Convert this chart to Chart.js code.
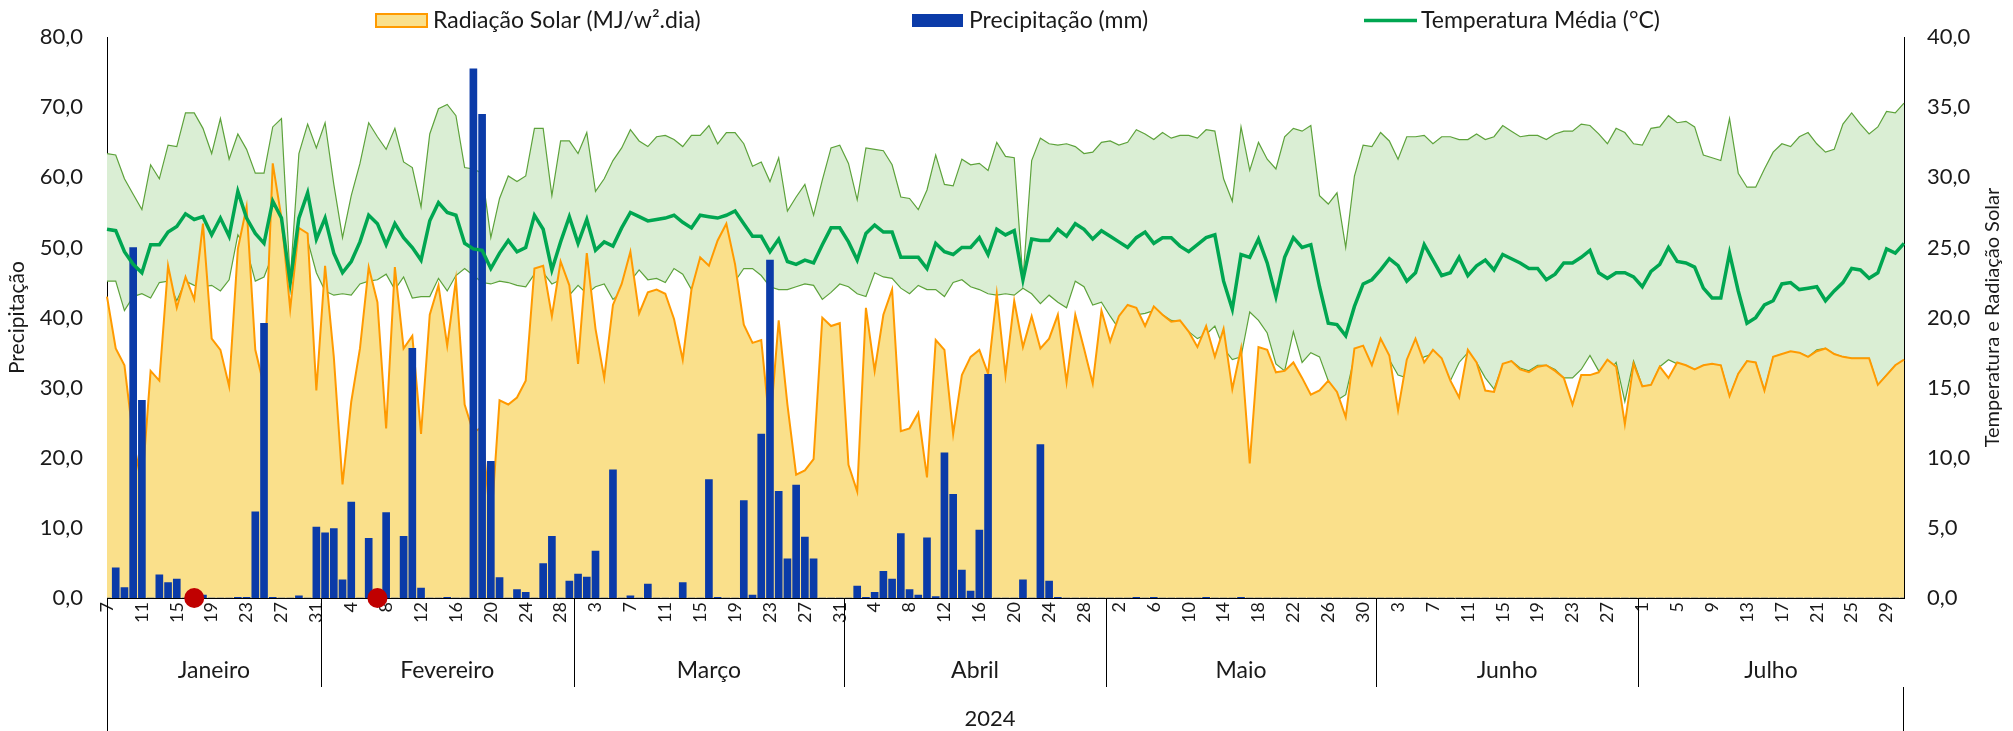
<!DOCTYPE html>
<html lang="pt-BR">
<head>
<meta charset="utf-8">
<title>Precipitação, Radiação Solar e Temperatura 2024</title>
<script src="https://cdn.jsdelivr.net/npm/chart.js@4.4.1/dist/chart.umd.min.js"></script>
<style>
  html, body { margin: 0; padding: 0; background: #fff; }
  #grafico { display: block; }
</style>
</head>
<body>
<canvas id="grafico" width="2013" height="731"></canvas>
<script>
// months on the axis (first / last day shown of each)
const meses = ['Janeiro', 'Fevereiro', 'Março', 'Abril', 'Maio', 'Junho', 'Julho'];
const primeiroDia = [7, 1, 1, 1, 1, 1, 1];
const ultimoDia = [31, 29, 31, 30, 31, 30, 31];
const ano = '2024';

// daily values, 7 Jan -> 31 Jul
const precipitacao = [
  0, 4.3, 1.5, 50.0, 28.2, 0, 3.3, 2.2, 2.7, 0,
  0, 0.4, 0, 0, 0, 0.1, 0.1, 12.3, 39.2, 0.1,
  0, 0, 0.3, 0, 10.1, 9.3, 9.9, 2.6, 13.7, 0,
  8.5, 0, 12.2, 0, 8.8, 35.6, 1.4, 0, 0, 0.1,
  0, 0, 75.5, 69.0, 19.5, 2.9, 0, 1.2, 0.8, 0,
  4.9, 8.8, 0, 2.4, 3.4, 3.0, 6.7, 0, 18.3, 0,
  0.3, 0, 2.0, 0, 0, 0, 2.2, 0, 0, 16.9,
  0.1, 0, 0, 13.9, 0.4, 23.4, 48.2, 15.2, 5.6, 16.1,
  8.7, 5.6, 0, 0, 0, 0, 1.7, 0.1, 0.8, 3.8,
  2.7, 9.2, 1.2, 0.4, 8.6, 0.2, 20.7, 14.8, 4.0, 1.0,
  9.7, 31.9, 0, 0, 0, 2.6, 0, 21.9, 2.4, 0.1,
  0, 0, 0, 0, 0, 0, 0, 0, 0.1, 0,
  0.1, 0, 0, 0, 0, 0, 0.1, 0, 0, 0,
  0.1, 0, 0, 0, 0, 0, 0, 0, 0, 0,
  0, 0, 0, 0, 0, 0, 0, 0, 0, 0,
  0, 0, 0, 0, 0, 0, 0, 0, 0, 0,
  0, 0, 0, 0, 0, 0, 0, 0, 0, 0,
  0, 0, 0, 0, 0, 0, 0, 0, 0, 0,
  0, 0, 0, 0, 0, 0, 0, 0, 0, 0,
  0, 0, 0, 0, 0, 0, 0, 0, 0, 0,
  0, 0, 0, 0, 0, 0, 0
];

const radiacao = [
  21.5, 17.8, 16.6, 11.4, 7.9, 16.2, 15.5, 23.7, 20.7, 22.9,
  21.3, 26.7, 18.5, 17.7, 15.1, 24.9, 27.9, 17.7, 15.1, 31.0,
  27.1, 20.6, 26.4, 26.0, 14.8, 23.7, 17.2, 8.1, 14.0, 17.8,
  23.6, 21.1, 12.1, 23.6, 17.8, 18.7, 11.7, 20.2, 22.3, 18.0,
  22.7, 13.8, 11.8, 12.2, 5.0, 14.1, 13.8, 14.3, 15.5, 23.5,
  23.7, 20.1, 24.0, 22.3, 16.7, 24.6, 19.2, 15.7, 20.9, 22.4,
  24.7, 20.3, 21.8, 22.0, 21.7, 19.9, 17.0, 22.0, 24.3, 23.7,
  25.5, 26.7, 23.8, 19.5, 18.2, 18.4, 12.1, 19.8, 13.8, 8.8,
  9.1, 9.9, 20.0, 19.4, 19.6, 9.5, 7.6, 20.7, 16.2, 20.2,
  22.0, 11.9, 12.1, 13.2, 8.6, 18.4, 17.7, 11.7, 15.9, 17.2,
  17.7, 16.0, 21.7, 15.9, 21.2, 17.9, 20.1, 17.8, 18.5, 20.2,
  15.4, 20.2, 17.8, 15.3, 20.5, 18.3, 20.1, 20.9, 20.7, 19.4,
  20.8, 20.2, 19.7, 19.8, 19.0, 17.9, 19.4, 17.2, 19.2, 14.9,
  17.8, 9.6, 17.9, 17.7, 16.1, 16.2, 16.8, 15.7, 14.5, 14.8,
  15.5, 14.7, 12.9, 17.8, 18.0, 16.6, 18.5, 17.3, 13.4, 17.0,
  18.5, 16.8, 17.7, 17.1, 15.5, 14.3, 17.7, 16.8, 14.8, 14.7,
  16.7, 16.9, 16.3, 16.1, 16.5, 16.6, 16.2, 15.7, 13.8, 15.9,
  15.9, 16.1, 17.0, 16.5, 12.4, 16.7, 15.1, 15.2, 16.5, 15.7,
  16.8, 16.6, 16.3, 16.6, 16.7, 16.6, 14.4, 16.0, 16.9, 16.8,
  14.8, 17.2, 17.4, 17.6, 17.5, 17.2, 17.6, 17.8, 17.4, 17.2,
  17.1, 17.1, 17.1, 15.2, 15.9, 16.6, 17.0
];

const tempMaxima = [
  31.7, 31.6, 29.9, 28.8, 27.7, 30.9, 29.9, 32.3, 32.2, 34.6,
  34.6, 33.5, 31.7, 34.2, 31.3, 33.1, 32.0, 30.3, 30.3, 33.6,
  34.2, 22.7, 31.7, 33.8, 32.1, 33.9, 29.5, 25.7, 28.7, 31.0,
  33.9, 32.9, 32.0, 33.5, 31.1, 30.7, 27.9, 33.1, 34.9, 35.2,
  34.4, 30.7, 30.6, 30.3, 25.7, 28.5, 30.1, 29.7, 30.1, 33.5,
  33.5, 28.7, 32.6, 32.6, 31.7, 33.2, 29.0, 29.9, 31.2, 32.1,
  33.4, 32.6, 32.2, 32.9, 33.0, 32.7, 32.2, 33.0, 33.0, 33.7,
  32.4, 33.2, 33.2, 32.4, 30.8, 31.1, 29.7, 31.4, 27.6, 28.6,
  29.5, 27.3, 29.8, 32.1, 32.3, 31.0, 28.4, 32.1, 32.0, 31.9,
  30.9, 28.6, 28.5, 27.7, 29.1, 31.6, 29.5, 29.4, 31.3, 30.9,
  31.0, 30.5, 32.5, 31.5, 31.4, 22.7, 31.2, 32.8, 32.4, 32.3,
  32.4, 32.2, 31.7, 31.8, 32.5, 32.6, 32.3, 32.5, 33.4, 33.1,
  32.7, 33.2, 32.8, 33.0, 33.0, 32.8, 33.4, 33.3, 29.9, 28.3,
  33.6, 30.5, 32.5, 31.3, 30.6, 32.9, 33.5, 33.3, 33.7, 28.7,
  28.1, 28.9, 25.0, 30.1, 32.3, 32.2, 33.2, 32.6, 31.3, 32.9,
  32.9, 33.0, 32.4, 32.9, 32.9, 32.7, 32.7, 33.1, 32.7, 32.9,
  33.7, 33.3, 32.9, 33.0, 33.0, 32.7, 33.1, 33.3, 33.3, 33.8,
  33.7, 33.1, 32.4, 33.5, 33.2, 32.4, 32.3, 33.5, 33.6, 34.4,
  33.9, 34.0, 33.6, 31.6, 31.4, 31.2, 34.2, 30.3, 29.3, 29.3,
  30.6, 31.8, 32.4, 32.2, 32.9, 33.2, 32.4, 31.8, 32.0, 33.8,
  34.6, 33.8, 33.1, 33.6, 34.7, 34.6, 35.3
];

const tempMedia = [
  26.3, 26.2, 24.7, 23.8, 23.2, 25.2, 25.2, 26.1, 26.5, 27.4,
  27.0, 27.2, 25.9, 27.1, 25.8, 29.0, 27.1, 26.0, 25.3, 28.3,
  27.1, 22.5, 27.1, 28.9, 25.6, 27.1, 24.6, 23.2, 24.0, 25.4,
  27.3, 26.7, 25.2, 26.7, 25.7, 25.0, 24.1, 26.9, 28.2, 27.5,
  27.3, 25.3, 24.9, 24.8, 23.5, 24.6, 25.5, 24.7, 25.0, 27.3,
  26.3, 23.4, 25.4, 27.2, 25.3, 27.0, 24.8, 25.4, 25.1, 26.4,
  27.5, 27.2, 26.9, 27.0, 27.1, 27.3, 26.8, 26.4, 27.3, 27.2,
  27.1, 27.3, 27.6, 26.7, 25.8, 25.8, 24.7, 25.6, 24.0, 23.8,
  24.1, 23.9, 25.2, 26.4, 26.4, 25.4, 24.1, 26.0, 26.6, 26.1,
  26.1, 24.3, 24.3, 24.3, 23.5, 25.3, 24.7, 24.5, 25.0, 25.0,
  25.7, 24.5, 26.3, 25.9, 26.2, 22.7, 25.6, 25.5, 25.5, 26.3,
  25.8, 26.7, 26.3, 25.6, 26.2, 25.8, 25.4, 25.0, 25.7, 26.1,
  25.3, 25.7, 25.7, 25.1, 24.7, 25.2, 25.7, 25.9, 22.6, 20.6,
  24.5, 24.3, 25.6, 23.9, 21.5, 24.3, 25.7, 25.0, 25.2, 22.2,
  19.6, 19.5, 18.7, 20.8, 22.4, 22.7, 23.4, 24.2, 23.7, 22.6,
  23.2, 25.2, 24.1, 23.0, 23.2, 24.3, 23.0, 23.7, 24.1, 23.4,
  24.5, 24.2, 23.9, 23.5, 23.5, 22.7, 23.1, 23.9, 23.9, 24.3,
  24.8, 23.2, 22.8, 23.2, 23.2, 22.9, 22.2, 23.3, 23.8, 25.0,
  24.0, 23.9, 23.6, 22.1, 21.4, 21.4, 24.6, 21.9, 19.6, 20.0,
  20.9, 21.2, 22.4, 22.5, 22.0, 22.1, 22.2, 21.2, 21.9, 22.5,
  23.5, 23.4, 22.8, 23.2, 24.9, 24.6, 25.3
];

const tempMinima = [
  22.6, 22.6, 20.5, 21.5, 21.7, 21.4, 22.5, 22.6, 21.2, 22.6,
  22.3, 22.2, 22.3, 21.9, 22.7, 25.9, 24.9, 22.6, 22.9, 24.5,
  25.7, 22.2, 25.8, 25.5, 23.2, 21.9, 21.6, 21.7, 21.6, 22.4,
  22.6, 22.7, 23.1, 22.0, 22.9, 21.4, 21.5, 21.5, 22.8, 21.9,
  23.0, 23.5, 23.0, 22.5, 22.4, 22.6, 22.5, 22.3, 22.2, 23.1,
  23.2, 22.4, 22.7, 21.6, 22.3, 21.7, 22.2, 22.4, 21.3, 21.8,
  22.6, 23.4, 22.7, 22.8, 22.5, 23.5, 23.1, 22.0, 23.0, 23.3,
  23.5, 23.5, 22.6, 23.5, 23.5, 23.0, 22.2, 22.0, 22.0, 22.2,
  22.4, 22.3, 21.3, 21.8, 22.4, 22.2, 21.7, 21.5, 23.2, 22.9,
  22.8, 22.1, 21.7, 22.3, 22.0, 22.0, 21.5, 22.5, 22.7, 22.2,
  22.0, 21.7, 21.6, 21.7, 21.6, 22.1, 21.7, 21.0, 21.6, 21.1,
  20.7, 22.6, 22.2, 20.9, 21.1, 20.1, 19.2, 20.4, 20.2, 20.3,
  20.5, 20.2, 19.8, 19.7, 19.0, 18.5, 18.8, 19.4, 17.8, 17.0,
  17.2, 20.4, 19.8, 18.9, 16.7, 16.2, 19.0, 16.8, 17.5, 17.2,
  15.5, 14.1, 14.5, 17.2, 17.2, 16.3, 16.7, 17.0, 15.9, 15.7,
  16.7, 17.2, 17.4, 16.8, 15.5, 16.8, 17.5, 16.8, 15.7, 14.9,
  16.6, 16.9, 16.4, 16.2, 16.6, 16.6, 16.3, 15.7, 15.7, 16.3,
  17.3, 16.2, 16.0, 16.8, 14.0, 16.9, 15.1, 15.2, 16.5, 17.0,
  16.7, 16.6, 16.3, 16.6, 16.6, 16.6, 14.4, 16.0, 16.9, 16.8,
  14.8, 17.2, 17.4, 17.5, 17.5, 17.2, 17.7, 17.8, 17.4, 17.2,
  17.1, 17.1, 17.1, 15.2, 15.9, 16.6, 16.9
];

// days marked with a red dot on the zero line
const diasMarcados = ['17/01', '07/02'];

const eixoEsq = { min: 0, max: 80, passo: 10 };
const eixoDir = { min: 0, max: 40, passo: 5 };

const FONTE = 'Lato, "Open Sans", sans-serif';
const TEXTO = '#1a1a1a';

// build the day categories from the month table
const diaLabels = [];
const chaves = [];
const grupos = [];
meses.forEach((nome, m) => {
  const inicio = diaLabels.length;
  for (let d = primeiroDia[m]; d <= ultimoDia[m]; d++) {
    diaLabels.push(String(d));
    chaves.push(String(d).padStart(2, '0') + '/' + String(m + 1).padStart(2, '0'));
  }
  grupos.push({ nome, inicio, fim: diaLabels.length - 1 });
});

const marcadores = chaves.map((c) => (diasMarcados.includes(c) ? 0 : null));

const formatoVirgula = (v) => Number(v).toFixed(1).replace('.', ',');

const legendaItens = [
  { texto: 'Radiação Solar (MJ/w².dia)', tipo: 'area', x: 376 },
  { texto: 'Precipitação (mm)', tipo: 'barra', x: 912 },
  { texto: 'Temperatura Média (°C)', tipo: 'linha', x: 1364 }
];

const CORES = {
  radLinha: '#FF9A00',
  radArea: '#FAE08B',
  barra: '#0B3BA8',
  media: '#00A651',
  faixaLinha: '#5DA23B',
  faixa: '#DAEED4',
  ponto: '#C00000'
};

const decoracao = {
  id: 'decoracao',
  afterDraw(chart) {
    const { ctx, chartArea } = chart;
    const xs = chart.scales.x;
    const base = chartArea.bottom;
    const fimMes = 687;
    const fundo = chart.height;

    ctx.save();
    ctx.strokeStyle = '#000';
    ctx.lineWidth = 1;

    // month dividers and names
    ctx.font = `23px ${FONTE}`;
    ctx.fillStyle = TEXTO;
    ctx.textAlign = 'center';
    ctx.textBaseline = 'middle';
    grupos.forEach((g, idx) => {
      const esq = idx === 0 ? chartArea.left
        : (xs.getPixelForValue(g.inicio - 1) + xs.getPixelForValue(g.inicio)) / 2;
      const dir = idx === grupos.length - 1 ? chartArea.right
        : (xs.getPixelForValue(g.fim) + xs.getPixelForValue(g.fim + 1)) / 2;
      if (idx > 0) {
        ctx.beginPath();
        ctx.moveTo(Math.round(esq) + 0.5, base);
        ctx.lineTo(Math.round(esq) + 0.5, fimMes);
        ctx.stroke();
      }
      ctx.fillText(g.nome, (esq + dir) / 2, 671);
    });

    // outer lines of the year level
    ctx.beginPath();
    ctx.moveTo(Math.round(chartArea.left) + 0.5, base);
    ctx.lineTo(Math.round(chartArea.left) + 0.5, fundo);
    ctx.moveTo(Math.round(chartArea.right) - 0.5, fimMes);
    ctx.lineTo(Math.round(chartArea.right) - 0.5, fundo);
    ctx.stroke();

    ctx.font = `22px ${FONTE}`;
    ctx.fillText(ano, 990, 719);

    // right axis title, reading bottom to top
    ctx.save();
    ctx.translate(1993, (chartArea.top + chartArea.bottom) / 2);
    ctx.rotate(-Math.PI / 2);
    ctx.font = `20px ${FONTE}`;
    ctx.fillText('Temperatura e Radiação Solar', 0, 0);
    ctx.restore();

    // legend
    const ly = 20.5;
    ctx.font = `23px ${FONTE}`;
    ctx.textAlign = 'left';
    legendaItens.forEach((item) => {
      if (item.tipo === 'area') {
        ctx.fillStyle = CORES.radArea;
        ctx.fillRect(item.x, ly - 6.5, 51, 13);
        ctx.strokeStyle = CORES.radLinha;
        ctx.lineWidth = 2;
        ctx.strokeRect(item.x, ly - 6.5, 51, 13);
      } else if (item.tipo === 'barra') {
        ctx.fillStyle = CORES.barra;
        ctx.fillRect(item.x, ly - 6.5, 51, 13);
      } else {
        ctx.strokeStyle = CORES.media;
        ctx.lineWidth = 3.5;
        ctx.beginPath();
        ctx.moveTo(item.x, ly);
        ctx.lineTo(item.x + 53, ly);
        ctx.stroke();
      }
      ctx.fillStyle = TEXTO;
      ctx.fillText(item.texto, item.x + 57, ly);
    });
    ctx.restore();
  }
};

new Chart(document.getElementById('grafico'), {
  type: 'bar',
  data: {
    labels: diaLabels,
    datasets: [
      {
        type: 'line',
        label: 'Temperatura Máxima',
        data: tempMaxima,
        yAxisID: 'y1',
        borderColor: CORES.faixaLinha,
        borderWidth: 1.2,
        backgroundColor: CORES.faixa,
        fill: '+1',
        pointRadius: 0,
        tension: 0,
        order: 6
      },
      {
        type: 'line',
        label: 'Temperatura Mínima',
        data: tempMinima,
        yAxisID: 'y1',
        borderColor: CORES.faixaLinha,
        borderWidth: 1.2,
        fill: false,
        pointRadius: 0,
        tension: 0,
        order: 5
      },
      {
        type: 'line',
        label: 'Radiação Solar (MJ/w².dia)',
        data: radiacao,
        yAxisID: 'y1',
        borderColor: CORES.radLinha,
        borderWidth: 2,
        backgroundColor: CORES.radArea,
        fill: 'origin',
        pointRadius: 0,
        tension: 0,
        order: 4
      },
      {
        type: 'bar',
        label: 'Precipitação (mm)',
        data: precipitacao,
        yAxisID: 'y',
        backgroundColor: CORES.barra,
        barThickness: 7,
        order: 3
      },
      {
        type: 'line',
        label: 'Temperatura Média (°C)',
        data: tempMedia,
        yAxisID: 'y1',
        borderColor: CORES.media,
        borderWidth: 3.5,
        pointRadius: 0,
        fill: false,
        tension: 0,
        order: 2
      },
      {
        type: 'line',
        label: 'Marcador',
        data: marcadores,
        yAxisID: 'y',
        showLine: false,
        pointRadius: 10,
        pointBackgroundColor: CORES.ponto,
        pointBorderWidth: 0,
        clip: false,
        order: 1
      }
    ]
  },
  options: {
    responsive: false,
    devicePixelRatio: 1,
    animation: false,
    events: [],
    layout: { padding: { top: 15, right: 0, bottom: 0, left: 0 } },
    plugins: {
      legend: { display: false },
      tooltip: { enabled: false }
    },
    scales: {
      x: {
        type: 'category',
        offset: false,
        grid: { display: false, drawTicks: false, offset: false },
        border: { display: true, color: '#000', width: 1 },
        ticks: {
          autoSkip: false,
          minRotation: 90,
          maxRotation: 90,
          padding: 4,
          color: TEXTO,
          font: { family: FONTE, size: 18 },
          callback: (value, index) => (index % 4 === 0 ? diaLabels[index] : '')
        },
        afterFit(scale) { scale.height = 133; }
      },
      y: {
        position: 'left',
        min: eixoEsq.min,
        max: eixoEsq.max,
        grid: { display: false, drawTicks: false },
        border: { display: true, color: '#000', width: 1 },
        ticks: {
          stepSize: eixoEsq.passo,
          padding: 24,
          color: TEXTO,
          font: { family: FONTE, size: 22 },
          callback: formatoVirgula
        },
        title: {
          display: true,
          text: 'Precipitação',
          color: TEXTO,
          font: { family: FONTE, size: 21 },
          padding: { top: 5, bottom: 0 }
        },
        afterFit(scale) { scale.width = 107; }
      },
      y1: {
        position: 'right',
        min: eixoDir.min,
        max: eixoDir.max,
        grid: { display: false, drawTicks: false },
        border: { display: true, color: '#000', width: 1 },
        ticks: {
          stepSize: eixoDir.passo,
          padding: 23,
          color: TEXTO,
          font: { family: FONTE, size: 22 },
          callback: formatoVirgula
        },
        afterFit(scale) { scale.width = 109; }
      }
    }
  },
  plugins: [decoracao]
});
</script>
</body>
</html>
